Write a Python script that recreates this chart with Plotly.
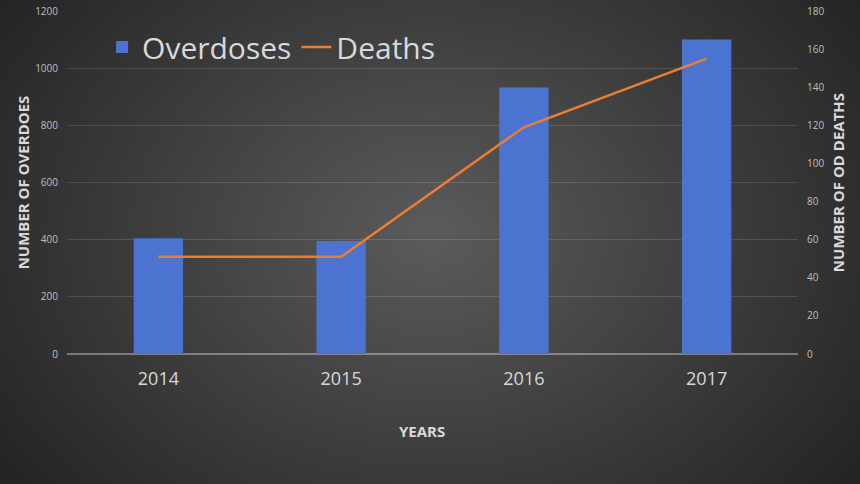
import base64, struct, zlib
import numpy as np
import plotly.graph_objects as go

years = ["2014", "2015", "2016", "2017"]
overdoses = [405, 395, 932, 1100]
deaths = [51, 51, 119, 155]

# radial gradient background as PNG data URI
W, H = 215, 121
yy, xx = np.mgrid[0:H, 0:W]
cx, cy = W * 0.5, H * 0.48
r = np.sqrt(((xx - cx) / (W * 0.62)) ** 2 + ((yy - cy) / (H * 0.85)) ** 2)
r = np.clip(r, 0, 1)
val = (0x5c + (0x24 - 0x5c) * r).astype(np.uint8)
raw = b"".join(b"\x00" + bytes(np.stack([val[i]] * 3, axis=1).flatten()) for i in range(H))
def chunk(t, d):
    c = struct.pack(">I", len(d)) + t + d
    return c + struct.pack(">I", zlib.crc32(t + d) & 0xffffffff)
png = b"\x89PNG\r\n\x1a\n" + chunk(b"IHDR", struct.pack(">IIBBBBB", W, H, 8, 2, 0, 0, 0)) + \
      chunk(b"IDAT", zlib.compress(raw, 9)) + chunk(b"IEND", b"")
uri = "data:image/png;base64," + base64.b64encode(png).decode()

FONT = "Open Sans"
fig = go.Figure()
fig.add_trace(go.Bar(x=years, y=overdoses, name="Overdoses",
                     marker=dict(color="#4a74cf", line=dict(width=0))))
fig.add_trace(go.Scatter(x=years, y=deaths, name="Deaths", yaxis="y2", mode="lines",
                         line=dict(color="#ED7D31", width=2.5)))

fig.update_layout(
    width=860, height=484,
    margin=dict(l=67, r=62, t=11, b=130, autoexpand=False),
    paper_bgcolor="#2e2e2e", plot_bgcolor="rgba(0,0,0,0)",
    bargap=0.73,
    font=dict(family=FONT, color="#bfbfbf"),
    images=[dict(source=uri, xref="paper", yref="paper", x=-67/731, y=1 + 11/343,
                 sizex=860/731, sizey=484/343, sizing="stretch", xanchor="left",
                 yanchor="top", layer="below")],
    xaxis=dict(tickfont=dict(size=18, color="#d9d9d9"), showgrid=False,
               ticklabelstandoff=12, showline=False, zeroline=False),
    yaxis=dict(range=[0, 1200], dtick=200, tickfont=dict(size=10, color="#bfbfbf"),
               gridcolor="rgba(255,255,255,0.13)", gridwidth=1,
               zeroline=True, zerolinecolor="rgba(255,255,255,0.35)", zerolinewidth=1.5,
               ticklabelstandoff=8,
               title=dict(text="<b>NUMBER OF OVERDOES</b>", font=dict(size=15, color="#d9d9d9"), standoff=1)),
    yaxis2=dict(range=[0, 180], dtick=20, overlaying="y", side="right",
                tickfont=dict(size=10, color="#bfbfbf"), showgrid=False, zeroline=False,
                ticklabelstandoff=8,
                title=dict(text="<b>NUMBER OF OD DEATHS</b>", font=dict(size=15, color="#d9d9d9"), standoff=10)),
    legend=dict(orientation="h", x=0.048, y=0.895, xanchor="left", yanchor="middle",
                font=dict(size=30, color="#d9d9d9"), bgcolor="rgba(0,0,0,0)",
                itemwidth=30, tracegroupgap=0),
    annotations=[dict(text="<b>YEARS</b>", xref="paper", yref="paper", x=0.486, y=-0.2245,
                      xanchor="center", yanchor="middle", showarrow=False,
                      font=dict(size=15, color="#d9d9d9"))],
    showlegend=True,
)
fig.write_html("out.html", config={"displayModeBar": False},
               post_script="document.body.style.margin='0';document.body.style.background='#262626';")
